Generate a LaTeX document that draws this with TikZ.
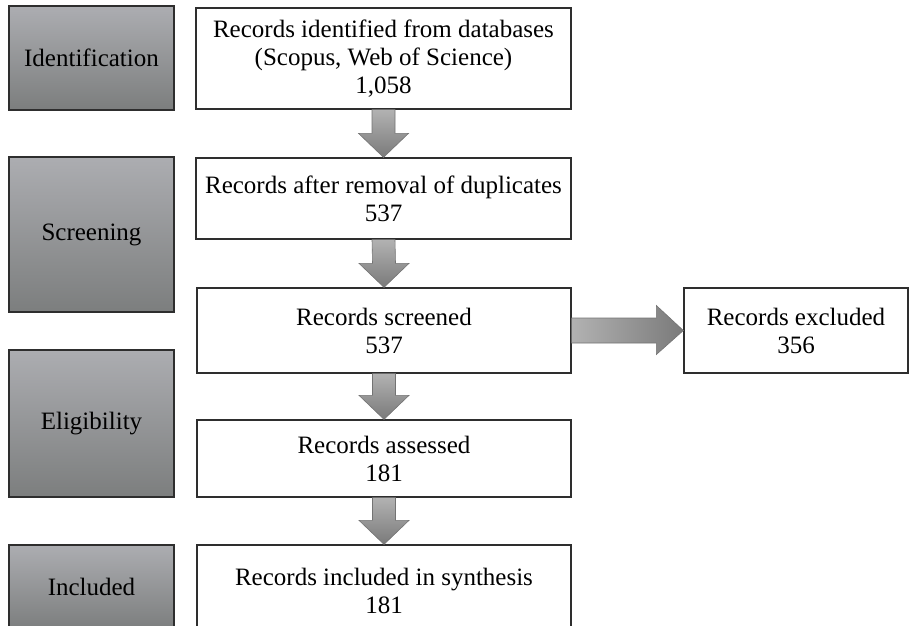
\documentclass[tikz,border=0pt]{standalone}
\usepackage{fontspec}
\setmainfont{Liberation Serif}
\usetikzlibrary{calc}

\definecolor{stagetop}{HTML}{ACADB1}
\definecolor{stagebot}{HTML}{7C7E7E}
\definecolor{arrowlight}{HTML}{B2B2B2}
\definecolor{arrowdark}{HTML}{7A7A7A}
\definecolor{edgegray}{HTML}{2E2E2E}

\tikzset{
  every node/.style={font=\fontsize{25}{28}\selectfont, align=center, inner sep=0pt},
  stagebox/.style={draw=edgegray, line width=1.3pt, top color=stagetop, bottom color=stagebot, minimum width=165pt},
  recbox/.style={draw=edgegray, line width=1.3pt, fill=white},
  downshade/.style={draw=black!55, line width=0.6pt, top color=arrowlight, bottom color=arrowdark},
  rightshade/.style={draw=black!55, line width=0.6pt, left color=arrowlight, right color=arrowdark}
}

% block arrow pointing down from the bottom of #1 to the top of #2
\newcommand\flowdown[2]{%
  \path[downshade]
    ($(#1.south)+(-11.5,0)$) -- ($(#1.south)+(11.5,0)$)
    -- ($(#2.north)+(11.5,-24)$) -- ($(#2.north)+(25,-24)$)
    -- (#2.north)
    -- ($(#2.north)+(-25,-24)$) -- ($(#2.north)+(-11.5,-24)$) -- cycle;}

\begin{document}
\begin{tikzpicture}[x=1pt, y=-1pt]
  \useasboundingbox (0,0) rectangle (910,625);
  \clip (0,0) rectangle (910,625);

  % stage labels
  \node[stagebox, minimum height=104pt] (id)  at (91.5, 58)  {Identification};
  \node[stagebox, minimum height=155pt] (scr) at (91.5, 234.5) {Screening};
  \node[stagebox, minimum height=147pt] (eli) at (91.5, 423.5) {Eligibility};
  \node[stagebox, minimum height=84pt]  (inc) at (91.5, 587)   {Included};

  % record boxes
  \node[recbox, minimum width=375pt, minimum height=101pt] (r1) at (383.5, 58.5)
    {Records identified from databases\\(Scopus, Web of Science)\\1,058};
  \node[recbox, minimum width=375pt, minimum height=81pt] (r2) at (383.5, 198.5)
    {Records after removal of duplicates\\537};
  \node[recbox, minimum width=374pt, minimum height=85pt] (r3) at (384, 330.5)
    {Records screened\\537};
  \node[recbox, minimum width=224pt, minimum height=85pt] (ex) at (796, 330.5)
    {Records excluded\\356};
  \node[recbox, minimum width=374pt, minimum height=77pt] (r4) at (384, 458.5)
    {Records assessed\\181};
  \node[recbox, minimum width=374pt, minimum height=92pt, text depth=0pt] (r5) at (384, 591)
    {Records included in synthesis\\181};

  % flow arrows
  \flowdown{r1}{r2}
  \flowdown{r2}{r3}
  \flowdown{r3}{r4}
  \flowdown{r4}{r5}

  \path[rightshade]
    ($(r3.east)+(0,-12.5)$) -- ($(ex.west)+(-27,-12.5)$)
    -- ($(ex.west)+(-27,-25)$) -- (ex.west)
    -- ($(ex.west)+(-27,24)$) -- ($(ex.west)+(-27,12.5)$)
    -- ($(r3.east)+(0,12.5)$) -- cycle;
\end{tikzpicture}
\end{document}
